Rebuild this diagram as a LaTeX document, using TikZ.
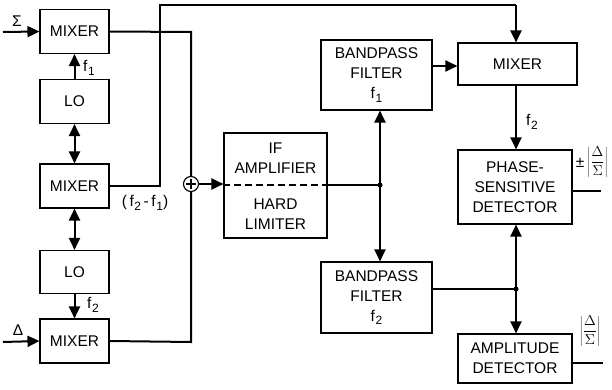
\documentclass[tikz,border=0pt]{standalone}
\usepackage{fontspec}
\setmainfont{Liberation Sans}
\usetikzlibrary{arrows.meta,calc}
\newcommand\fsub[1]{f\kern0.6pt\raisebox{-0.45ex}{\fontsize{12}{12}\selectfont #1}}
\newcommand\dsfrac{\fontsize{14}{17}\selectfont$\displaystyle\left|\frac{\Delta}{\Sigma}\right|$}
\begin{document}
\begin{tikzpicture}[x=1pt,y=-1pt,
  blk/.style={draw,line width=1.1pt,inner sep=0pt,align=center,font=\fontsize{15.5}{20}\selectfont},
  conn/.style={line width=2pt},
  arr/.style={conn,-{Triangle[length=12pt,width=11pt]}},
  darr/.style={conn,{Triangle[length=12pt,width=11pt]}-{Triangle[length=12pt,width=11pt]}},
  lbl/.style={font=\fontsize{15.5}{18}\selectfont,inner sep=0pt},
  dot/.style={circle,fill,inner sep=0pt,minimum size=5pt}]
\useasboundingbox (0,0) rectangle (612,390);
% left column
\node[blk,minimum width=69pt,minimum height=44pt] (M1) at (74.5,31.5) {MIXER};
\node[blk,minimum width=69pt,minimum height=44pt] (LO1) at (74.5,101.5) {LO};
\node[blk,minimum width=69pt,minimum height=44pt] (M2) at (74.5,186) {MIXER};
\node[blk,minimum width=69pt,minimum height=43pt] (LO2) at (74.5,272) {LO};
\node[blk,minimum width=69pt,minimum height=44pt] (M3) at (74.5,341) {MIXER};
% inputs
\coordinate (SigIn) at (3,32);
\coordinate (DelIn) at (3,342);
\draw[arr] (SigIn) -- (M1.west);
\draw[arr] (DelIn) -- (M3.west);
\node[lbl] (SigL) at (17,21) {Σ};
\node[lbl] (DelL) at (18,330) {Δ};
% LO connections
\draw[arr] (LO1.north) -- (M1.south);
\node[lbl] (f1L) at (89,68) {\fsub{1}};
\draw[darr] (LO1.south) -- (M2.north);
\draw[darr] (M2.south) -- (LO2.north);
\draw[arr] (LO2.south) -- (M3.north);
\node[lbl] (f2L) at (93,305) {\fsub{2}};
\node[lbl] (fdL) at (145,203) {(\,\fsub{2}\,-\,\fsub{1})};
% summing junction
\node[draw,circle,line width=1.1pt,minimum size=15pt,inner sep=0pt] (S) at (191,184) {};
\draw[line width=1.1pt] ($(S.center)+(-5,0)$) -- ($(S.center)+(5,0)$)
  ($(S.center)+(0,-5)$) -- ($(S.center)+(0,5)$);
\coordinate (c1) at (191,32);
\coordinate (c3) at (191,342);
\draw[conn] (M1.east) -- (c1) -- (S.north);
\draw[conn] (M3.east) -- (c3) -- (S.south);
% IF amplifier / hard limiter
\node[draw,line width=1.1pt,minimum width=103pt,minimum height=105pt] (IF) at (275.5,185.5) {};
\node[lbl,align=center,font=\fontsize{15.5}{20}\selectfont] (IFt) at (275.5,158) {IF\\AMPLIFIER};
\node[lbl,align=center,font=\fontsize{15.5}{20}\selectfont] (IFb) at (275.5,214) {HARD\\LIMITER};
\draw[arr] (S.east) -- (IF.west |- S.east);
\draw[line width=1.2pt,dash pattern=on 7pt off 4pt] (IF.west |- 0,185) -- (IF.east |- 0,185);
% bandpass filters
\node[blk,minimum width=111pt,minimum height=70pt] (B1) at (376.5,75) {BANDPASS\\FILTER\\\fsub{1}};
\node[blk,minimum width=111pt,minimum height=71pt] (B2) at (376.5,297.5) {BANDPASS\\FILTER\\\fsub{2}};
\coordinate (J1) at (380,185);
\draw[conn] (IF.east |- J1) -- (J1);
\node[dot] (J1d) at (J1) {};
\draw[arr] (J1) -- (J1 |- B1.south);
\draw[arr] (J1) -- (J1 |- B2.north);
% right column
\node[blk,minimum width=119pt,minimum height=42pt] (MR) at (517.5,64) {MIXER};
\node[blk,minimum width=114pt,minimum height=74pt] (PSD) at (515,187) {PHASE-\\SENSITIVE\\DETECTOR};
\node[blk,minimum width=114pt,minimum height=49pt] (AD) at (515,358.5) {AMPLITUDE\\DETECTOR};
% top loop from middle mixer
\coordinate (t1) at (160,186);
\coordinate (t2) at (160,5);
\coordinate (t3) at (516,5);
\draw[conn] (M2.east) -- (t1) -- (t2) -- (t3);
\draw[arr] (t3) -- (t3 |- MR.north);
\draw[arr] (B1.east |- 0,66) -- (MR.west |- 0,66);
\draw[arr] (MR.south -| 516,0) -- (PSD.north -| 516,0);
\node[lbl] (f2R) at (532,122) {\fsub{2}};
\coordinate (J2) at (516,289);
\draw[conn] (B2.east |- J2) -- (J2);
\node[dot] (J2d) at (J2) {};
\draw[arr] (J2) -- (J2 |- PSD.south);
\draw[arr] (J2) -- (J2 |- AD.north);
% outputs
\coordinate (o1) at (601,191);
\coordinate (o2) at (603,363);
\draw[conn] (PSD.east |- o1) -- (o1);
\draw[conn] (AD.east |- o2) -- (o2);
\node[lbl] (pmL) at (580,163) {±};
\node[inner sep=0pt,anchor=west] (q1) at (587,162) {\dsfrac};
\node[inner sep=0pt] (q2) at (590,331) {\dsfrac};
\end{tikzpicture}
\end{document}
